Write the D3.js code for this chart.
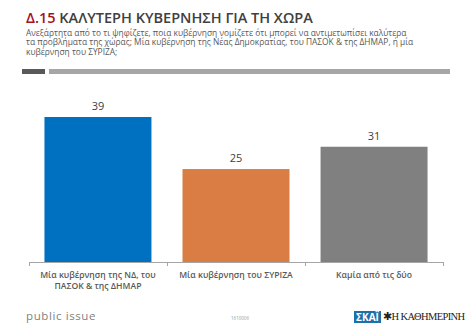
<!DOCTYPE html>
<html>
<head>
<meta charset="utf-8">
<script src="https://cdn.jsdelivr.net/npm/d3@7"></script>
<style>
  body { margin: 0; background: #fff; }
  svg { display: block; font-family: "Open Sans", "Noto Sans", sans-serif; }
</style>
</head>
<body>
<div id="chart"></div>
<script>
const categories = [
  ["Μία κυβέρνηση της ΝΔ, του", "ΠΑΣΟΚ & της ΔΗΜΑΡ"],
  ["Μία κυβέρνηση του ΣΥΡΙΖΑ"],
  ["Καμία από τις δύο"]
];
const values = [39, 25, 31];
const barColors = ["#0070C0", "#D97D45", "#808080"];
const subtitleLines = [
  "Ανεξάρτητα από το τι ψηφίζετε, ποια κυβέρνηση νομίζετε ότι μπορεί να αντιμετωπίσει καλύτερα",
  "τα προβλήματα της χώρας; Μία κυβέρνηση της Νέας Δημοκρατίας, του ΠΑΣΟΚ & της ΔΗΜΑΡ, ή μία",
  "κυβέρνηση του ΣΥΡΙΖΑ;"
];

const width = 470, height = 324;
const margin = { left: 29, right: 27, top: 117, bottom: 62 };

const svg = d3.select("#chart").append("svg")
  .attr("width", width)
  .attr("height", height);

// title
const title = svg.append("text")
  .attr("x", 26).attr("y", 23)
  .attr("font-size", 14.5)
  .attr("font-weight", 600);
title.append("tspan").attr("fill", "#A3121C").text("Δ.15 ");
title.append("tspan").attr("fill", "#404040").text("ΚΑΛΥΤΕΡΗ ΚΥΒΕΡΝΗΣΗ ΓΙΑ ΤΗ ΧΩΡΑ");

svg.append("g").selectAll("text")
  .data(subtitleLines)
  .join("text")
  .attr("x", 26)
  .attr("y", (d, i) => 35.5 + i * 9.7)
  .attr("font-size", 8.4)
  .attr("fill", "#595959")
  .text(d => d);

// separator
svg.append("rect").attr("x", 22).attr("y", 69).attr("width", 23).attr("height", 5).attr("fill", "#595959");
svg.append("rect").attr("x", 49).attr("y", 69).attr("width", 401).attr("height", 5).attr("fill", "#A6A6A6");

const x = d3.scaleBand()
  .domain(d3.range(values.length))
  .range([margin.left, width - margin.right])
  .paddingInner(0.225)
  .paddingOuter(0.112);

const y = d3.scaleLinear()
  .domain([0, 39])
  .range([height - margin.bottom, margin.top]);

svg.append("g").selectAll("rect")
  .data(values)
  .join("rect")
  .attr("x", (d, i) => x(i))
  .attr("y", d => y(d))
  .attr("width", x.bandwidth())
  .attr("height", d => y(0) - y(d))
  .attr("fill", (d, i) => barColors[i]);

svg.append("g").selectAll("text")
  .data(values)
  .join("text")
  .attr("x", (d, i) => x(i) + x.bandwidth() / 2)
  .attr("y", d => y(d) - 7)
  .attr("text-anchor", "middle")
  .attr("font-size", 11)
  .attr("fill", "#404040")
  .text(d => d);

// axis
const axisY = y(0);
const step = (width - margin.right - margin.left) / values.length;
svg.append("line")
  .attr("x1", margin.left).attr("x2", width - margin.right)
  .attr("y1", axisY + 0.5).attr("y2", axisY + 0.5)
  .attr("stroke", "#A6A6A6");
svg.append("g").selectAll("line")
  .data(d3.range(values.length + 1))
  .join("line")
  .attr("x1", i => margin.left + i * step + 0.5)
  .attr("x2", i => margin.left + i * step + 0.5)
  .attr("y1", axisY).attr("y2", axisY + 4)
  .attr("stroke", "#A6A6A6");

const cat = svg.append("g").selectAll("text")
  .data(categories)
  .join("text")
  .attr("x", (d, i) => x(i) + x.bandwidth() / 2)
  .attr("y", axisY + 16)
  .attr("text-anchor", "middle")
  .attr("font-size", 8.6)
  .attr("font-weight", 600)
  .attr("fill", "#595959");
cat.selectAll("tspan")
  .data(d => d)
  .join("tspan")
  .attr("x", function() { return this.parentNode.getAttribute("x"); })
  .attr("dy", (d, i) => i === 0 ? 0 : 11)
  .text(d => d);

// footer
svg.append("text")
  .attr("x", 26).attr("y", 320)
  .attr("font-size", 11.5)
  .attr("letter-spacing", 0.6)
  .attr("fill", "#7F7F7F")
  .text("public issue");
svg.append("text")
  .attr("x", 240).attr("y", 320)
  .attr("text-anchor", "middle")
  .attr("font-size", 4.5)
  .attr("fill", "#999")
  .text("1610006");
svg.append("rect")
  .attr("x", 354).attr("y", 311).attr("width", 27).attr("height", 12)
  .attr("fill", "#1F6FA8");
svg.append("text")
  .attr("x", 367.5).attr("y", 321)
  .attr("text-anchor", "middle")
  .attr("font-size", 10)
  .attr("font-weight", 700)
  .attr("fill", "#fff")
  .text("ΣΚΑΪ");
svg.append("text")
  .attr("x", 383).attr("y", 320)
  .attr("font-family", "Liberation Serif, serif")
  .attr("font-size", 10.5)
  .attr("letter-spacing", -0.6)
  .attr("fill", "#222")
  .text("✱Η ΚΑΘΗΜΕΡΙΝΗ");
</script>
</body>
</html>
